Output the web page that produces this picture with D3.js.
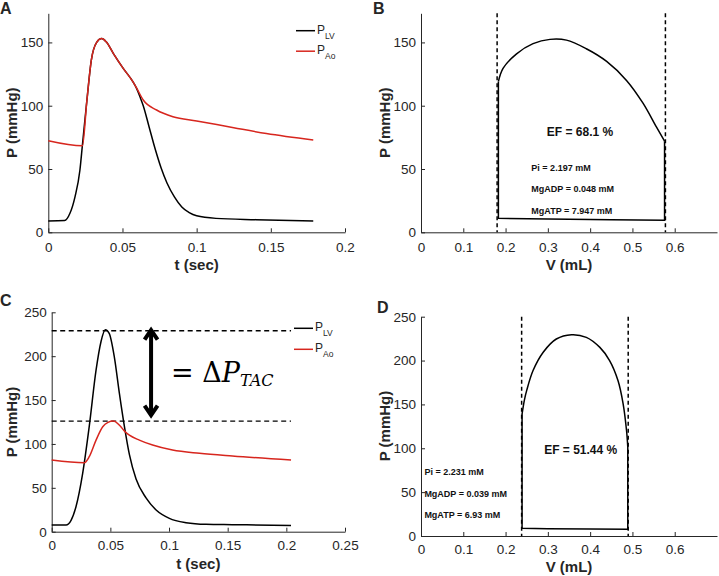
<!DOCTYPE html>
<html>
<head>
<meta charset="utf-8">
<script src="https://d3js.org/d3.v7.min.js"></script>
<style>
  body { margin: 0; background: #fff; }
  svg { font-family: Arial, 'Liberation Sans', sans-serif; }
  .tick text { fill: #262626; font-size: 13.5px; }
  .domain, .tick line { stroke: #262626; }
</style>
</head>
<body>
<svg id="fig" width="719" height="576"></svg>
<script>
// ---- panel A : pressure vs time (control) ----
var tLvA = [0, 0.011, 0.0146, 0.018, 0.0213, 0.023, 0.026, 0.029, 0.0326, 0.036, 0.039, 0.044, 0.0505, 0.057, 0.0595,
            0.0618, 0.064, 0.068, 0.072, 0.076, 0.08, 0.085, 0.09, 0.095, 0.1, 0.113, 0.14, 0.1786];
var pLvA = [9, 9.3, 15, 28, 49, 69, 104, 136, 150, 153, 150.5, 141, 129.5, 119, 113.7,
            107, 100, 83, 66, 51, 39, 28, 20, 15.5, 13, 11, 10, 9];
var tAoA = [0, 0.023, 0.026, 0.029, 0.0326, 0.036, 0.039, 0.044, 0.0505, 0.057, 0.0595, 0.064, 0.073, 0.084, 0.1, 0.125, 0.147, 0.1786];
var pAoA = [72.4, 68.4, 104, 136, 150, 153, 150.5, 141, 129.5, 119, 114, 104.5, 96.6, 91.3, 88, 82.6, 78, 72.9];

// ---- panel B : PV loop (control) ----
var vArcB = [0.183, 0.194, 0.226, 0.265, 0.305, 0.344, 0.391, 0.439, 0.486, 0.525, 0.557, 0.576];
var pArcB = [119, 129.5, 141, 149, 152.4, 151.8, 145, 135, 120, 102, 83, 72];
var vBaseB = [0.576, 0.45, 0.3, 0.183];
var pBaseB = [9.5, 10, 10.5, 11];
var edvB = [0.18, 0.578];
var textB = ["Pi = 2.197 mM", "MgADP = 0.048 mM", "MgATP = 7.947 mM"];
var efB = "EF = 68.1 %";

// ---- panel C : pressure vs time (TAC) ----
var tLvC = [0, 0.0122, 0.0165, 0.0207, 0.0264, 0.032, 0.0378, 0.042, 0.0457, 0.049, 0.0534, 0.0577, 0.062, 0.0662,
            0.0719, 0.0804, 0.089, 0.1003, 0.1145, 0.1315, 0.154, 0.204];
var pLvC = [7.6, 7.6, 13, 28.5, 66.5, 120, 184, 216.5, 230, 226, 199, 157.6, 119.6, 88,
            60, 38.5, 24.7, 15.2, 10.3, 8.4, 8, 7.2];
var tAoC = [0, 0.0278, 0.032, 0.0378, 0.0435, 0.048, 0.0525, 0.058, 0.0625, 0.0662, 0.0747, 0.086, 0.103, 0.126, 0.154, 0.204];
var pAoC = [81.7, 78.6, 85.5, 104.4, 119.6, 124.5, 126, 121, 114, 110, 104.4, 98.7, 93, 89.3, 86.2, 81.7];
var refC = [229, 126];

// ---- panel D : PV loop (TAC) ----
var vArcD = [0.239, 0.2445, 0.25, 0.265, 0.289, 0.32, 0.356, 0.391, 0.423, 0.446, 0.466, 0.478, 0.486, 0.489];
var pArcD = [139, 155, 166, 188.6, 209.5, 224.6, 229.5, 226.5, 215, 200, 177, 150.7, 120.5, 101.5];
var vBaseD = [0.489, 0.4, 0.3, 0.239];
var pBaseD = [7.6, 7.9, 8.3, 8.7];
var edvD = [0.238, 0.49];
var textD = ["Pi = 2.231 mM", "MgADP = 0.039 mM", "MgATP = 6.93 mM"];
var efD = "EF = 51.44 %";

var tTicksA = [0, 0.05, 0.1, 0.15, 0.2];
var tTicksC = [0, 0.05, 0.1, 0.15, 0.2, 0.25];
var vTicks = [0, 0.1, 0.2, 0.3, 0.4, 0.5, 0.6];
var pTicksTop = [0, 50, 100, 150];
var pTicksBot = [0, 50, 100, 150, 200, 250];

var RED = "#d7261e";
var svg = d3.select("#fig");

var xA = d3.scaleLinear().domain([0, 0.2]).range([48.3, 345]);
var yA = d3.scaleLinear().domain([0, 173]).range([232.3, 13.3]);
var xB = d3.scaleLinear().domain([0, 0.7]).range([421, 717]);
var yB = yA.copy();
var xC = d3.scaleLinear().domain([0, 0.25]).range([51.7, 345]);
var yC = d3.scaleLinear().domain([0, 250]).range([531.7, 312.3]);
var xD = d3.scaleLinear().domain([0, 0.7]).range([421, 717]);
var yD = d3.scaleLinear().domain([0, 250]).range([536, 316.7]);

function axes(x, y, xt, yt, pad) {
    var g = svg.append("g");
    g.append("g")
        .attr("transform", "translate(0," + y.range()[0] + ")")
        .call(d3.axisBottom(x).tickValues(xt).tickSizeInner(-4).tickSizeOuter(0)
            .tickPadding(pad).tickFormat(function (d) { return String(d); }));
    g.append("g")
        .attr("transform", "translate(" + x.range()[0] + ",0)")
        .call(d3.axisLeft(y).tickValues(yt).tickSizeInner(-4).tickSizeOuter(0)
            .tickPadding(5).tickFormat(function (d) { return String(d); }));
    return g;
}

// x, y is the centre of the text
function label(txt, x, y, rot, size) {
    svg.append("text")
        .attr("transform", "translate(" + x + "," + y + ")" + (rot ? " rotate(-90)" : ""))
        .attr("text-anchor", rot === null ? "start" : "middle")
        .attr("dy", "0.35em")
        .style("font-weight", "bold")
        .style("font-size", (size || 15) + "px")
        .style("fill", "#262626")
        .text(txt);
}

function series(x, y, xs, ys, color, curve) {
    var pts = xs.map(function (d, i) { return [d, ys[i]]; });
    svg.append("path")
        .datum(pts)
        .attr("fill", "none")
        .attr("stroke", color)
        .attr("stroke-width", 1.5)
        .attr("d", d3.line().x(function (d) { return x(d[0]); }).y(function (d) { return y(d[1]); })
            .curve(curve || d3.curveMonotoneX));
}

function legend(lx, ly, gap) {
    [["LV", "#000"], ["Ao", RED]].forEach(function (d, i) {
        var yy = ly + i * gap;
        svg.append("line").attr("x1", lx).attr("x2", lx + 19).attr("y1", yy).attr("y2", yy)
            .attr("stroke", d[1]).attr("stroke-width", 1.5);
        var t = svg.append("text").attr("x", lx + 21).attr("y", yy + 3)
            .style("font-size", "12px").style("fill", "#262626");
        t.append("tspan").text("P");
        t.append("tspan").attr("dy", 5).style("font-size", "8.5px").text(d[0]);
    });
}

function vdash(x, y, v) {
    svg.append("line")
        .attr("x1", x(v)).attr("x2", x(v))
        .attr("y1", y.range()[1]).attr("y2", y.range()[0])
        .attr("stroke", "#000").attr("stroke-width", 1.5).attr("stroke-dasharray", "4,3");
}

function loop(x, y, va, pa, vb, pb) {
    series(x, y, va, pa, "#000", d3.curveCatmullRom);
    var vs = [va[va.length - 1]].concat(vb, [va[0]]);
    var ps = [pa[pa.length - 1]].concat(pb, [pa[0]]);
    series(x, y, vs, ps, "#000", d3.curveLinear);
}

function notes(x, y, lines, v0, pTop, step) {
    lines.forEach(function (s, i) {
        svg.append("text").attr("x", x(v0)).attr("y", y(pTop) + i * step)
            .style("font-size", "9px").style("font-weight", "bold").style("fill", "#111")
            .text(s);
    });
}

// ---------------- A ----------------
axes(xA, yA, tTicksA, pTicksTop, 10);
series(xA, yA, tLvA, pLvA, "#000");
series(xA, yA, tAoA, pAoA, RED);
legend(296, 30.7, 20.5);
label("t (sec)", 196.7, 264.7, false);
label("P (mmHg)", 11.7, 122.7, true);
label("A", 0, 8, null, 16);

// ---------------- B ----------------
axes(xB, yB, vTicks, pTicksTop, 10);
loop(xB, yB, vArcB, pArcB, vBaseB, pBaseB);
edvB.forEach(function (v) { vdash(xB, yB, v); });
svg.append("text").attr("x", 580).attr("y", yB(76)).attr("text-anchor", "middle")
    .style("font-size", "12px").style("font-weight", "bold").style("fill", "#111").text(efB);
notes(xB, yB, textB, 0.261, 48.7, 21.5);
label("V (mL)", 569, 264.7, false);
label("P (mmHg)", 384.3, 122.7, true);
label("B", 373, 8, null, 16);

// ---------------- C ----------------
axes(xC, yC, tTicksC, pTicksBot, 8.7);
refC.forEach(function (p) {
    svg.append("line").attr("x1", xC(0)).attr("x2", xC(0.204)).attr("y1", yC(p)).attr("y2", yC(p))
        .attr("stroke", "#000").attr("stroke-width", 1.3).attr("stroke-dasharray", "5,3.5");
});
series(xC, yC, tLvC, pLvC, "#000");
series(xC, yC, tAoC, pAoC, RED);
legend(294, 328.3, 21);

// double arrow for delta P
var ax = xC(0.0847), aTop = yC(231.5), aBot = yC(131);
svg.append("line").attr("x1", ax).attr("x2", ax).attr("y1", aTop + 2).attr("y2", aBot - 2)
    .attr("stroke", "#000").attr("stroke-width", 4);
svg.append("path").attr("fill", "none").attr("stroke", "#000").attr("stroke-width", 4)
    .attr("stroke-linejoin", "miter")
    .attr("d", "M" + (ax - 6.5) + "," + (aTop + 11) + "L" + ax + "," + (aTop + 1.5) + "L" + (ax + 6.5) + "," + (aTop + 11)
        + "M" + (ax - 6.5) + "," + (aBot - 11) + "L" + ax + "," + (aBot - 1.5) + "L" + (ax + 6.5) + "," + (aBot - 11));
var dp = svg.append("text").attr("x", xC(0.1017)).attr("y", yC(171))
    .style("font-family", "'DejaVu Serif', 'Liberation Serif', serif").style("font-size", "27px").style("fill", "#000");
dp.append("tspan").text("= \u0394");
dp.append("tspan").style("font-style", "italic").text("P");
dp.append("tspan").attr("dy", 4).style("font-style", "italic").style("font-size", "16px").text("TAC");
label("t (sec)", 198.3, 563.3, false);
label("P (mmHg)", 11.7, 422, true);
label("C", 0, 300.5, null, 16);

// ---------------- D ----------------
axes(xD, yD, vTicks, pTicksBot, 8.7);
loop(xD, yD, vArcD, pArcD, vBaseD, pBaseD);
edvD.forEach(function (v) { vdash(xD, yD, v); });
svg.append("text").attr("x", 580.7).attr("y", yD(93.5)).attr("text-anchor", "middle")
    .style("font-size", "12px").style("font-weight", "bold").style("fill", "#111").text(efD);
notes(xD, yD, textD, 0.008, 69, 21.2);
label("V (mL)", 569, 567, false);
label("P (mmHg)", 385, 426, true);
label("D", 377, 307.5, null, 16);
</script>
</body>
</html>
